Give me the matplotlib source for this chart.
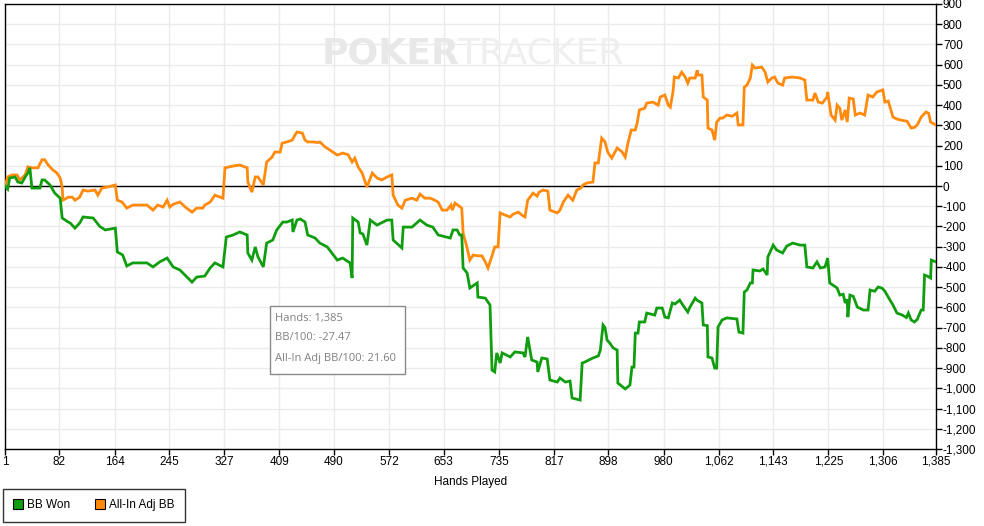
import numpy as np
import matplotlib.pyplot as plt
from matplotlib.ticker import FuncFormatter
from matplotlib.patches import Rectangle
from matplotlib.lines import Line2D

# BB Won (hand, big blinds)
won_hands = [1, 5, 8, 16, 20, 26, 31, 35, 38, 41, 53, 56, 60, 68, 75, 83, 86, 95, 98, 105,
             112, 117, 132, 142, 150, 165, 168, 176, 182, 191, 212, 221, 231, 242, 251, 261,
             279, 286, 298, 306, 313, 325, 330, 340, 350, 361, 362, 368, 373, 377, 385, 390,
             399, 405, 414, 420, 428, 429, 435, 440, 447, 451, 462, 469, 480, 495, 503, 514,
             517, 518, 526, 529, 533, 539, 544, 554, 569, 576, 578, 591, 593, 606, 618, 628,
             637, 645, 663, 667, 673, 677, 680, 682, 688, 692, 703, 704, 715, 722, 725, 729,
             732, 737, 740, 752, 759, 771, 774, 778, 784, 792, 793, 799, 807, 811, 822, 826,
             834, 841, 844, 856, 859, 863, 875, 883, 886, 890, 893, 896, 900, 905, 911, 912,
             923, 930, 933, 936, 938, 942, 944, 952, 955, 967, 970, 978, 982, 987, 993, 997,
             1004, 1009, 1016, 1019, 1027, 1030, 1037, 1039, 1045, 1046, 1052, 1056, 1059,
             1061, 1067, 1074, 1089, 1092, 1098, 1100, 1104, 1109, 1112, 1113, 1123, 1128,
             1134, 1135, 1143, 1148, 1157, 1163, 1172, 1183, 1190, 1193, 1202, 1208, 1213,
             1220, 1224, 1227, 1238, 1242, 1247, 1250, 1253, 1254, 1257, 1262, 1268, 1277,
             1284, 1287, 1294, 1299, 1305, 1309, 1314, 1321, 1327, 1335, 1341, 1344, 1348,
             1353, 1357, 1363, 1366, 1368, 1372, 1377, 1378, 1385]
won_bb = [0, -15, 40, 45, 20, 15, 45, 65, 90, -10, -10, 30, 30, 5, -35, -60, -158, -178, -183,
          -208, -183, -153, -158, -200, -217, -208, -326, -341, -395, -380, -380, -400, -375,
          -356, -400, -415, -475, -450, -445, -405, -380, -400, -252, -242, -227, -242, -331,
          -366, -301, -350, -400, -282, -267, -217, -178, -178, -168, -227, -168, -163, -178,
          -242, -257, -282, -301, -366, -356, -380, -455, -158, -178, -232, -237, -292, -168,
          -193, -168, -168, -267, -306, -203, -203, -168, -193, -203, -242, -257, -217, -217,
          -242, -242, -405, -430, -504, -479, -549, -554, -588, -910, -919, -825, -875, -825,
          -845, -820, -825, -845, -746, -860, -870, -919, -850, -855, -959, -969, -949, -969,
          -964, -1048, -1058, -875, -870, -850, -840, -811, -687, -700, -761, -776, -800, -811,
          -974, -1003, -984, -895, -895, -727, -727, -672, -672, -628, -638, -603, -603, -648,
          -652, -578, -583, -564, -590, -623, -600, -554, -565, -578, -687, -690, -845, -850,
          -900, -900, -697, -662, -652, -657, -722, -727, -524, -514, -479, -479, -415, -420,
          -410, -440, -351, -292, -316, -331, -297, -282, -292, -292, -400, -405, -375, -405,
          -400, -356, -479, -504, -539, -535, -578, -560, -648, -539, -545, -598, -613, -613,
          -514, -520, -499, -505, -520, -549, -588, -628, -638, -650, -628, -662, -672, -660,
          -613, -613, -440, -445, -455, -366, -375]

# All-In Adj BB (hand, big blinds)
adj_hands = [1, 5, 11, 19, 23, 31, 35, 41, 50, 56, 60, 65, 72, 78, 83, 86, 87, 95, 101, 105,
             112, 117, 124, 135, 139, 145, 153, 165, 168, 175, 182, 191, 212, 221, 228, 236,
             242, 246, 251, 261, 269, 279, 286, 295, 298, 306, 313, 325, 328, 340, 350, 361,
             362, 368, 373, 377, 385, 390, 398, 402, 410, 413, 420, 428, 432, 435, 443, 447,
             451, 459, 466, 469, 477, 484, 495, 503, 511, 517, 521, 526, 532, 539, 547, 554,
             561, 569, 576, 578, 585, 591, 596, 606, 613, 618, 625, 633, 640, 645, 651, 658,
             664, 666, 670, 680, 682, 688, 692, 697, 704, 710, 715, 719, 725, 729, 734, 737,
             744, 752, 756, 764, 770, 774, 778, 786, 792, 795, 801, 808, 811, 822, 826, 831,
             838, 845, 851, 857, 860, 866, 875, 878, 883, 888, 893, 897, 903, 911, 918, 923,
             927, 932, 938, 941, 944, 952, 955, 964, 972, 975, 982, 987, 990, 994, 996, 1002,
             1007, 1012, 1016, 1019, 1027, 1030, 1031, 1037, 1039, 1045, 1046, 1052, 1056,
             1059, 1064, 1068, 1074, 1082, 1089, 1091, 1098, 1100, 1104, 1109, 1112, 1116,
             1126, 1131, 1135, 1141, 1145, 1150, 1157, 1160, 1171, 1183, 1190, 1193, 1202,
             1205, 1210, 1216, 1223, 1224, 1229, 1235, 1238, 1242, 1245, 1250, 1253, 1256,
             1262, 1265, 1272, 1279, 1284, 1291, 1297, 1306, 1309, 1314, 1321, 1327, 1333,
             1342, 1348, 1353, 1357, 1363, 1370, 1374, 1377, 1385]
adj_bb = [0, 45, 55, 55, 30, 55, 95, 90, 90, 130, 130, 105, 80, 65, 40, -5, -70, -55, -55, -70,
          -55, -20, -25, -20, -45, -10, -5, 5, -70, -79, -109, -94, -94, -119, -94, -104, -70,
          -104, -90, -79, -104, -129, -109, -109, -94, -79, -45, -60, 90, 99, 104, 90, 20, -30,
          45, 45, 5, 119, 143, 168, 168, 212, 218, 227, 252, 267, 262, 227, 218, 218, 215, 218,
          193, 178, 153, 163, 155, 119, 138, 94, 64, -5, 64, 40, 30, 45, 55, -45, -94, -109,
          -70, -60, -70, -40, -60, -60, -70, -80, -119, -119, -94, -119, -84, -109, -232, -306,
          -366, -341, -345, -345, -375, -405, -345, -301, -301, -133, -143, -153, -140, -129,
          -145, -153, -70, -35, -50, -30, -20, -25, -119, -133, -119, -79, -45, -70, -20, -10,
          5, 15, 20, 114, 114, 237, 218, 168, 138, 188, 170, 143, 212, 277, 277, 316, 376, 385,
          410, 415, 400, 440, 450, 400, 390, 465, 539, 534, 563, 540, 509, 534, 534, 573, 549,
          549, 440, 425, 287, 277, 227, 316, 336, 336, 351, 345, 361, 302, 302, 489, 499, 534,
          598, 583, 588, 563, 514, 534, 539, 509, 499, 534, 539, 534, 524, 425, 425, 460, 415,
          410, 440, 465, 351, 326, 400, 385, 326, 376, 316, 435, 430, 351, 361, 351, 450, 440,
          465, 475, 415, 420, 341, 331, 326, 320, 287, 290, 302, 341, 366, 360, 316, 302]

x_ticks = [1, 82, 164, 245, 327, 409, 490, 572, 653, 735, 817, 898, 980, 1062, 1143, 1225, 1306, 1385]
y_ticks = list(range(-1300, 901, 100))
tooltip = ['Hands: 1,385', 'BB/100: -27.47', 'All-In Adj BB/100: 21.60']

green = '#109e10'
orange = '#ff8a0c'

W, H = 984, 526
fig = plt.figure(figsize=(W / 100, H / 100), dpi=100)
ax = fig.add_axes([5 / W, 1 - 449 / H, 931 / W, 445 / H])

ax.set_xlim(1, 1385)
ax.set_ylim(-1300, 900)
ax.set_xticks(x_ticks)
ax.set_yticks(y_ticks)
fmt = FuncFormatter(lambda v, p: f'{int(v):,}')
ax.xaxis.set_major_formatter(fmt)
ax.yaxis.set_major_formatter(fmt)
ax.yaxis.tick_right()
ax.tick_params(axis='both', direction='out', length=4, width=1, color='black',
               labelsize=8.5, pad=1)
for lab in ax.get_xticklabels() + ax.get_yticklabels():
    lab.set_fontfamily('Liberation Sans')
ax.grid(color='#ebebeb', linewidth=1)
ax.set_axisbelow(True)
for s in ax.spines.values():
    s.set_color('black')
    s.set_linewidth(1)

# watermark, placed in pixels
fig.text(322 / W, 1 - 54 / H, 'POKER', fontsize=26, fontweight='bold',
         color='#e8e8e8', family='DejaVu Sans', ha='left', va='center', zorder=0)
fig.text(457 / W, 1 - 54 / H, 'TRACKER', fontsize=26,
         color='#efefef', family='DejaVu Sans', ha='left', va='center', zorder=0)

ax.axhline(0, color='black', linewidth=1, zorder=2)
ax.plot(adj_hands, adj_bb, color=orange, linewidth=2, zorder=3, solid_joinstyle='miter')
ax.plot(won_hands, won_bb, color=green, linewidth=2, zorder=4, solid_joinstyle='miter')

ax.set_xlabel('Hands Played', fontsize=8.5, family='Liberation Sans', labelpad=6)

# tooltip box
fig.patches.append(Rectangle((270 / W, 1 - 374 / H), 135 / W, 68 / H, transform=fig.transFigure,
                             facecolor='white', edgecolor='#8a8a8a', linewidth=1, zorder=10))
for i, t in enumerate(tooltip):
    fig.text(275 / W, 1 - (318 + i * 20) / H, t, fontsize=8, color='#808080',
             family='Open Sans', va='center', ha='left', zorder=11)

# legend
handles = [Line2D([], [], linestyle='none', marker='s', markersize=7, markerfacecolor=green,
                  markeredgecolor='black', markeredgewidth=0.8),
           Line2D([], [], linestyle='none', marker='s', markersize=7, markerfacecolor=orange,
                  markeredgecolor='black', markeredgewidth=0.8)]
leg = fig.legend(handles, ['BB Won', 'All-In Adj BB'], loc='lower left',
                 bbox_to_anchor=(3 / W, 4 / H), borderaxespad=0, ncol=2, frameon=True,
                 fancybox=False, edgecolor='black', handlelength=0.8, handletextpad=0.3,
                 columnspacing=2.2, borderpad=0.9, prop={'family': 'Liberation Sans', 'size': 8.5})
leg.get_frame().set_linewidth(1)

fig.savefig('out.png', dpi=100)
